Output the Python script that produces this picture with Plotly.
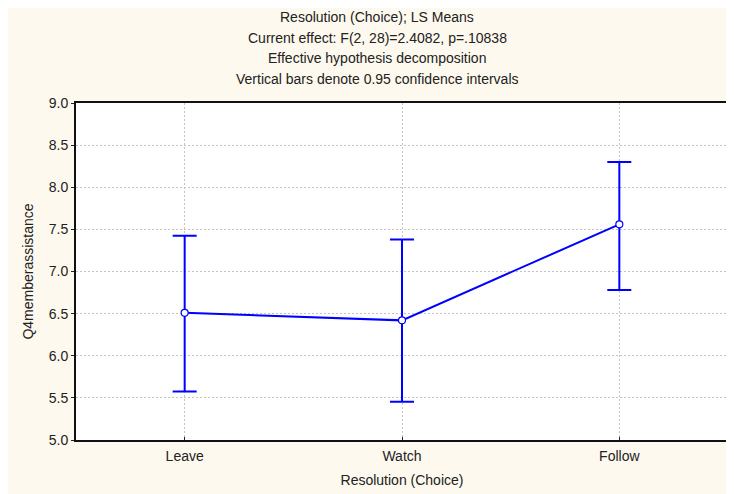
import plotly.graph_objects as go

categories = ["Leave", "Watch", "Follow"]
means = [6.51, 6.42, 7.56]
ci_upper = [7.425, 7.38, 8.30]
ci_lower = [5.575, 5.455, 6.78]
y_ticks = [5.0, 5.5, 6.0, 6.5, 7.0, 7.5, 8.0, 8.5, 9.0]
title_lines = [
    "Resolution (Choice); LS Means",
    "Current effect: F(2, 28)=2.4082, p=.10838",
    "Effective hypothesis decomposition",
    "Vertical bars denote 0.95 confidence intervals",
]

err_plus = [u - m for u, m in zip(ci_upper, means)]
err_minus = [m - l for m, l in zip(means, ci_lower)]

FONT = "Liberation Sans, Arial, sans-serif"
FS = 14
BLUE = "#0000FF"

fig = go.Figure()
fig.add_trace(go.Scatter(
    x=[0, 1, 2], y=means, mode="lines+markers",
    line=dict(color=BLUE, width=2),
    marker=dict(symbol="circle", size=7, color="white", line=dict(color=BLUE, width=1.2)),
    error_y=dict(type="data", symmetric=False, array=err_plus, arrayminus=err_minus,
                 color=BLUE, thickness=2, width=12),
    showlegend=False,
))

for i, t in enumerate(title_lines):
    fig.add_annotation(text=t, xref="paper", yref="paper", x=0.462, y=1,
                       yshift=86 - 20.7 * i, xanchor="center", yanchor="middle",
                       showarrow=False, font=dict(family=FONT, size=FS, color="#222222"))

fig.update_layout(
    width=726, height=486,
    margin=dict(l=68, r=6, t=95, b=54),
    paper_bgcolor="#FDF9EE", plot_bgcolor="white",
    font=dict(family=FONT, size=FS, color="#222222"),
    xaxis=dict(range=[-0.5, 2.5], tickvals=[0, 1, 2], ticktext=categories,
               automargin=False, ticklabelstandoff=2,
               showgrid=True, gridcolor="#C4C4C4", griddash="2px,2px", gridwidth=1,
               ticks="inside", ticklen=3, tickcolor="#222222",
               showline=True, linecolor="#111111", linewidth=2, mirror=True,
               zeroline=False,
               title=dict(text="Resolution (Choice)", standoff=12,
                          font=dict(family=FONT, size=FS, color="#222222"))),
    yaxis=dict(range=[5.0, 9.0], tickvals=y_ticks,
               ticktext=[f"{v:.1f}" for v in y_ticks],
               automargin=False,
               showgrid=True, gridcolor="#C4C4C4", griddash="2px,2px", gridwidth=1,
               ticks="outside", ticklen=3, tickcolor="#222222",
               showline=True, linecolor="#111111", linewidth=2, mirror=True,
               zeroline=False,
               title=dict(text="Q4memberassistance", standoff=12,
                          font=dict(family=FONT, size=FS, color="#222222"))),
)

fig.write_html("out.html")
